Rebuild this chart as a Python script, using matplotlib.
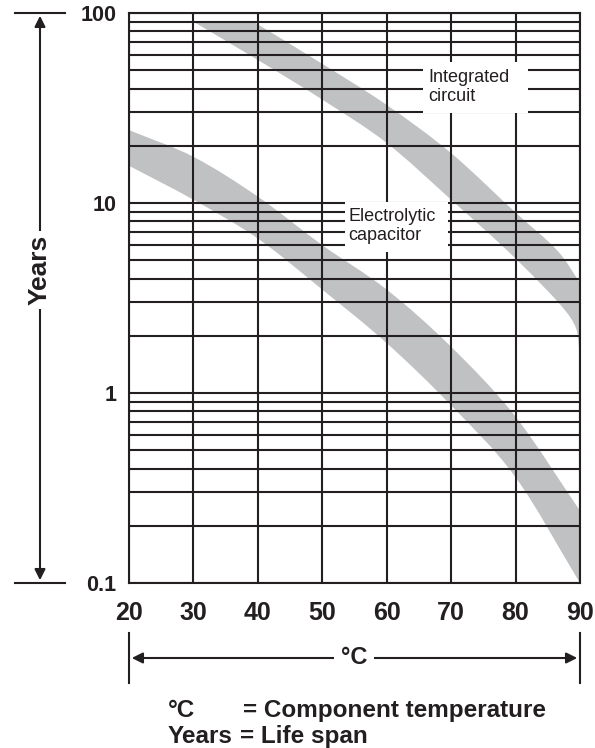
import numpy as np
import matplotlib
matplotlib.use('Agg')
import matplotlib.pyplot as plt
from matplotlib.lines import Line2D
from matplotlib.path import Path
from matplotlib.patches import PathPatch, Rectangle, FancyArrowPatch

plt.rcParams['font.family'] = ['Liberation Sans', 'DejaVu Sans']

# Electrolytic capacitor band (years vs. component temperature)
ec_temp = [20, 30, 40, 50, 60, 70, 80, 90]
ec_upper = [24.2, 17.5, 10.8, 6.0, 3.5, 1.75, 0.75, 0.24]
ec_lower = [15.7, 10.4, 6.5, 3.5, 1.83, 0.86, 0.36, 0.10]

# Integrated circuit band (edges read separately, band cut off at 90 years)
ic_upper_temp = [39.3, 50, 60, 70, 80, 86.4, 90]
ic_upper = [90, 54, 32.8, 18.3, 8.9, 5.66, 3.8]
ic_lower_temp = [30, 40, 50, 60, 70, 80, 88.5, 90]
ic_lower = [90, 56.6, 35, 20.7, 10.4, 5.1, 2.5, 1.63]

x_ticks = [20, 30, 40, 50, 60, 70, 80, 90]
y_ticks = [0.1, 1, 10, 100]
y_tick_labels = ['0.1', '1', '10', '100']

W, H = 595, 748
fig = plt.figure(figsize=(W / 100, H / 100), dpi=100)


def fx(px):
    return px / W


def fy(py):
    return 1 - py / H


def smooth_edge(t, v):
    """Catmull-Rom through the read points, done in log space, as bezier segments"""
    p = np.column_stack([t, np.log10(v)])
    p = np.vstack([p[0] - (p[1] - p[0]), p, p[-1] + (p[-1] - p[-2])])
    verts, codes = [], []
    for i in range(1, len(p) - 2):
        c1 = p[i] + (p[i + 1] - p[i - 1]) / 6
        c2 = p[i + 1] - (p[i + 2] - p[i]) / 6
        verts += [c1, c2, p[i + 1]]
        codes += [Path.CURVE4] * 3
    verts = np.array(verts)
    verts[:, 1] = 10 ** verts[:, 1]
    return verts, codes


def band(ax, t_up, v_up, t_lo, v_lo, **kw):
    vu, cu = smooth_edge(t_up, v_up)
    vl, cl = smooth_edge(t_lo[::-1], v_lo[::-1])
    verts = [(t_up[0], v_up[0])] + list(vu) + [(t_lo[-1], v_lo[-1])] + list(vl) + [(t_up[0], v_up[0])]
    codes = [Path.MOVETO] + cu + [Path.LINETO] + cl + [Path.CLOSEPOLY]
    ax.add_patch(PathPatch(Path(verts, codes), transform=ax.transData, **kw))


ax = fig.add_axes([fx(129), fy(583), fx(580) - fx(129), fy(13) - fy(583)])
ax.set_yscale('log')
ax.set_xlim(20, 90)
ax.set_ylim(0.1, 100)

band_color = '#c0c1c3'
ink = '#231f20'

band(ax, ec_temp, ec_upper, ec_temp, ec_lower, color=band_color, lw=0, zorder=1)
band(ax, ic_upper_temp, ic_upper, ic_lower_temp, ic_lower, color=band_color, lw=0, zorder=1)

ax.set_xticks(x_ticks)
ax.set_yticks(y_ticks)
ax.set_yticklabels(y_tick_labels)
ax.yaxis.set_minor_locator(matplotlib.ticker.LogLocator(base=10, subs=np.arange(2, 10)))
ax.yaxis.set_minor_formatter(matplotlib.ticker.NullFormatter())
ax.set_axisbelow(False)
ax.grid(True, which='both', axis='y', color=ink, lw=1.5, zorder=2)
ax.grid(True, which='major', axis='x', color=ink, lw=1.5, zorder=2)
for s in ax.spines.values():
    s.set_color(ink)
    s.set_linewidth(1.5)
    s.set_zorder(3)
ax.tick_params(which='both', length=0)
ax.tick_params(axis='y', pad=9, labelsize=15.5)
ax.tick_params(axis='x', pad=13, labelsize=18)
for lbl in ax.get_xticklabels() + ax.get_yticklabels():
    lbl.set_fontweight('bold')
    lbl.set_color(ink)

# white cut-outs in the grid behind the curve labels
ax.add_patch(Rectangle((65.65, 29.8), 81.96 - 65.65, 55.2 - 29.8,
                       facecolor='white', edgecolor='none', zorder=4))
ax.add_patch(Rectangle((53.5, 5.52), 69.5 - 53.5, 10.1 - 5.52,
                       facecolor='white', edgecolor='none', zorder=4))
ax.text(66.4, 40.7, 'Integrated\ncircuit', fontsize=13, color=ink,
        ha='left', va='center', linespacing=1.15, zorder=5)
ax.text(54.0, 7.57, 'Electrolytic\ncapacitor', fontsize=13, color=ink,
        ha='left', va='center', linespacing=1.15, zorder=5)

# left dimension arrow (Years)
for py in (13, 583):
    fig.add_artist(Line2D([fx(15), fx(65)], [fy(py), fy(py)], color=ink, lw=1.5))
fig.add_artist(FancyArrowPatch(
    (fx(40), fy(583)), (fx(40), fy(13)), transform=fig.transFigure,
    arrowstyle='<|-|>', mutation_scale=16, color=ink, lw=1.5))
fig.text(fx(40), fy(270), 'Years', rotation=90, ha='center', va='center',
         fontsize=19, fontweight='bold', color=ink,
         bbox=dict(boxstyle='square,pad=0.15', facecolor='white', edgecolor='none'))

# bottom dimension arrow (°C)
for px in (129, 580):
    fig.add_artist(Line2D([fx(px), fx(px)], [fy(633), fy(683)], color=ink, lw=1.5))
fig.add_artist(FancyArrowPatch(
    (fx(129), fy(658)), (fx(580), fy(658)), transform=fig.transFigure,
    arrowstyle='<|-|>', mutation_scale=16, color=ink, lw=1.5))
fig.text(fx(354), fy(658), '°C', ha='center', va='center', fontsize=17,
         fontweight='bold', color=ink,
         bbox=dict(boxstyle='square,pad=0.3', facecolor='white', edgecolor='none'))

# legend of symbols
fig.text(fx(168), fy(717), '°C', ha='left', va='baseline', fontsize=17.5,
         fontweight='bold', color=ink)
fig.text(fx(243), fy(717), '= Component temperature', ha='left', va='baseline',
         fontsize=17.5, fontweight='bold', color=ink)
fig.text(fx(168), fy(743), 'Years', ha='left', va='baseline', fontsize=17.5,
         fontweight='bold', color=ink)
fig.text(fx(240), fy(743), '= Life span', ha='left', va='baseline',
         fontsize=17.5, fontweight='bold', color=ink)

fig.savefig('out.png', dpi=100, facecolor='white')
